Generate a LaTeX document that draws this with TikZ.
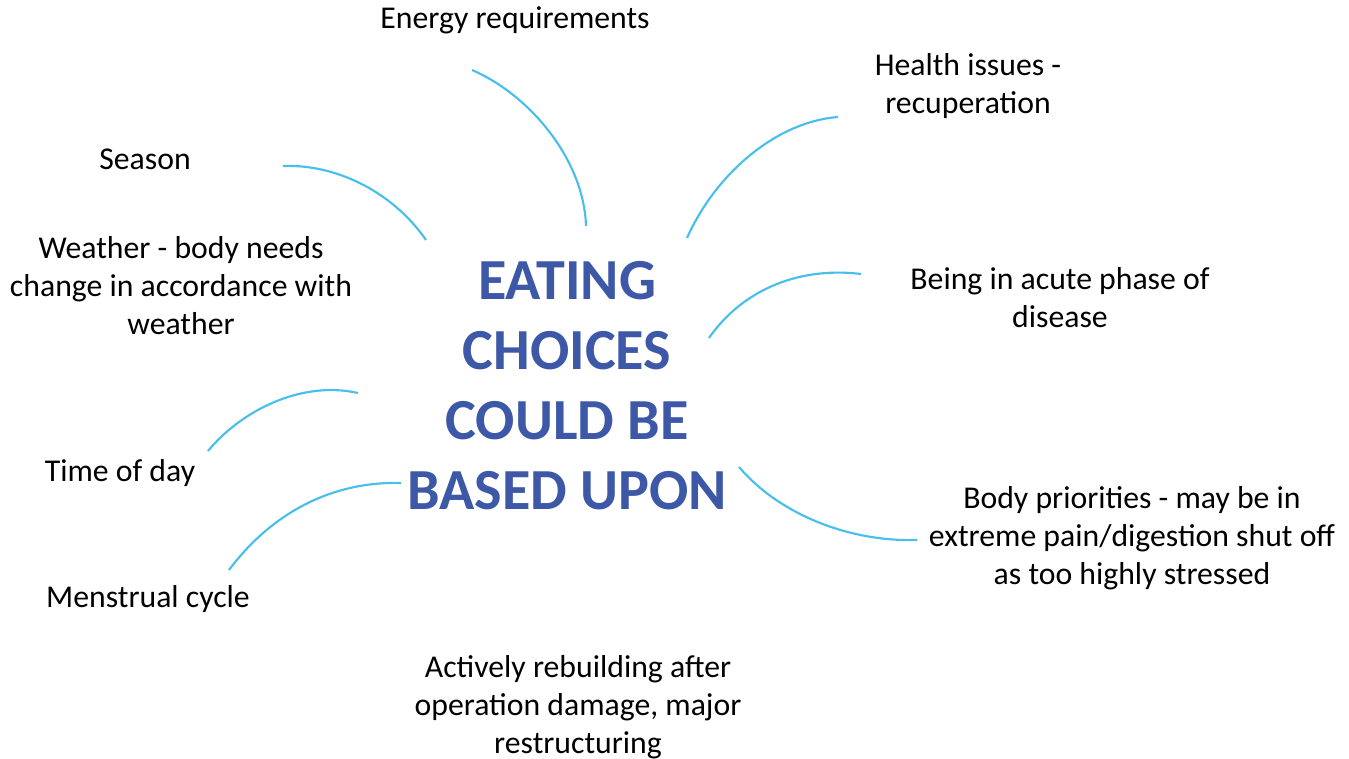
\documentclass[tikz,border=0pt]{standalone}
\usepackage{fontspec}
\setmainfont{Carlito}
\definecolor{titleblue}{RGB}{60,88,166}
\definecolor{linkblue}{RGB}{72,190,236}
\tikzset{
  label/.style={align=center,font=\fontsize{23.8pt}{28.5pt}\selectfont,inner sep=0pt},
  link/.style={linkblue,line width=1.6pt}
}
\begin{document}
\begin{tikzpicture}[x=0.75pt,y=-0.75pt]
\useasboundingbox (0,0) rectangle (1349,759);
% centre
\node[align=center,font=\fontsize{43.6pt}{52.5pt}\selectfont\bfseries,text=titleblue,inner sep=0pt] (centre) at (567,386) {EATING\\CHOICES\\COULD BE\\BASED UPON};
% factors
\node[label] (energy) at (515,20) {Energy requirements};
\node[label] (health) at (968,86) {Health issues -\\recuperation};
\node[label] (season) at (145,159) {Season};
\node[label] (weather) at (181,286) {Weather - body needs\\change in accordance with\\weather};
\node[label] (acute) at (1060,298) {Being in acute phase of\\disease};
\node[label] (time) at (120,473) {Time of day};
\node[label] (cycle) at (148,599) {Menstrual cycle};
\node[label] (body) at (1132,538) {Body priorities - may be in\\extreme pain/digestion shut off\\as too highly stressed};
\node[label] (rebuild) at (578,707) {Actively rebuilding after\\operation damage, major\\restructuring};
% curve ends
\coordinate (e1) at (472,70);   \coordinate (e2) at (586,226);
\coordinate (h1) at (838,117);  \coordinate (h2) at (687,238);
\coordinate (s1) at (283,166);  \coordinate (s2) at (426,240);
\coordinate (a1) at (861,274);  \coordinate (a2) at (709,338);
\coordinate (t1) at (358,393);  \coordinate (t2) at (208,451);
\coordinate (m1) at (401,483);  \coordinate (m2) at (229,570);
\coordinate (b1) at (739,467);  \coordinate (b2) at (917,540);
\draw[link] (e1) .. controls (530,95) and (584,160) .. (e2);
\draw[link] (h1) .. controls (775,122) and (715,175) .. (h2);
\draw[link] (s1) .. controls (340,164) and (395,195) .. (s2);
\draw[link] (a1) .. controls (795,266) and (740,293) .. (a2);
\draw[link] (t1) .. controls (300,380) and (240,412) .. (t2);
\draw[link] (m1) .. controls (330,481) and (270,515) .. (m2);
\draw[link] (b1) .. controls (780,515) and (850,542) .. (b2);
\end{tikzpicture}
\end{document}
